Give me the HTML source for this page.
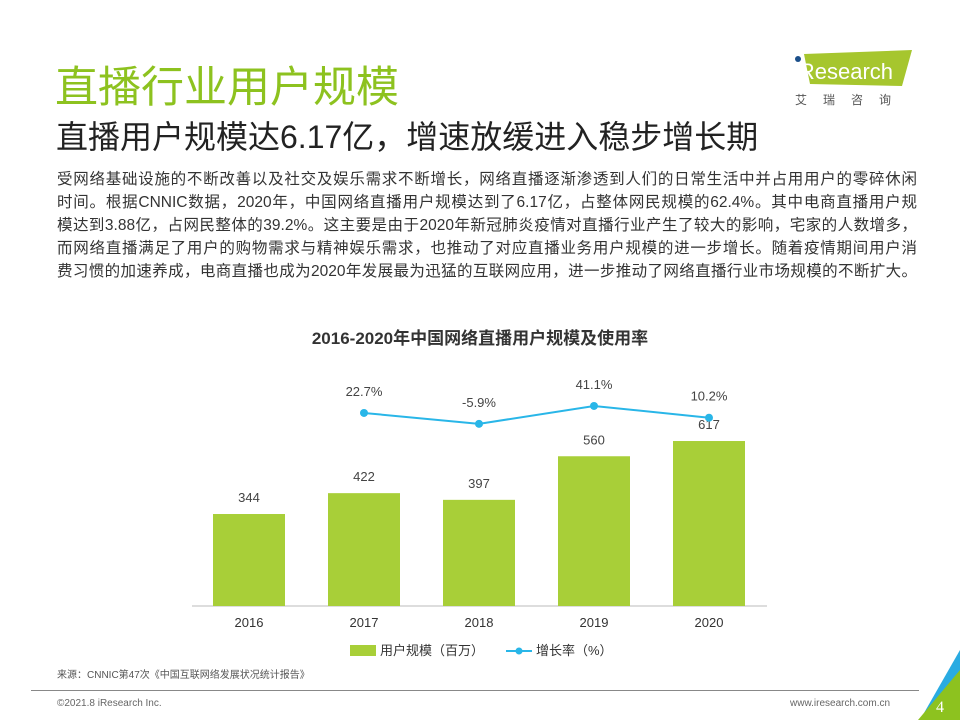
<!DOCTYPE html>
<html><head><meta charset="utf-8"><style>
body{margin:0;width:960px;height:720px;background:#fff;position:relative;overflow:hidden;font-family:"Liberation Sans","Noto Sans CJK SC",sans-serif;}
.t{position:absolute;white-space:nowrap;}
.pl{position:absolute;left:57px;width:860px;font-size:15.5px;line-height:23px;color:#333;text-align:justify;text-align-last:justify;white-space:nowrap;}
</style></head><body>
<div class="t" style="left:55px;top:53px;font-size:43px;color:#8dc21f;">直播行业用户规模</div>
<div class="t" style="left:56px;top:112px;font-size:32px;color:#222;">直播用户规模达6.17亿，增速放缓进入稳步增长期</div>
<div style="position:absolute;left:790px;top:48px;width:125px;height:62px;">
<svg width="125" height="62"><polygon points="14,6 122,2 112,38 20,36" fill="#a6c62e"/><circle cx="8" cy="11" r="3" fill="#1b4f8a"/><text x="4" y="31" font-size="22" fill="#fff" font-family="Liberation Sans">iResearch</text><text x="5" y="56" font-size="12" fill="#555" letter-spacing="16" font-family="Noto Sans CJK SC">艾瑞咨询</text></svg></div>
<div>
<div class="pl" style="top:168px;">受网络基础设施的不断改善以及社交及娱乐需求不断增长，网络直播逐渐渗透到人们的日常生活中并占用用户的零碎休闲</div>
<div class="pl" style="top:191px;">时间。根据CNNIC数据，2020年，中国网络直播用户规模达到了6.17亿，占整体网民规模的62.4%。其中电商直播用户规</div>
<div class="pl" style="top:214px;">模达到3.88亿，占网民整体的39.2%。这主要是由于2020年新冠肺炎疫情对直播行业产生了较大的影响，宅家的人数增多，</div>
<div class="pl" style="top:237px;">而网络直播满足了用户的购物需求与精神娱乐需求，也推动了对应直播业务用户规模的进一步增长。随着疫情期间用户消</div>
<div class="pl" style="top:260px;">费习惯的加速养成，电商直播也成为2020年发展最为迅猛的互联网应用，进一步推动了网络直播行业市场规模的不断扩大。</div>
</div>
<div class="t" style="left:0;width:960px;text-align:center;top:324px;font-size:17px;font-weight:bold;color:#333;">2016-2020年中国网络直播用户规模及使用率</div>
<svg id="chart" width="960" height="720" style="position:absolute;left:0;top:0;"></svg>
<div class="t" style="left:57px;top:666px;font-size:10px;color:#555;">来源：CNNIC第47次《中国互联网络发展状况统计报告》</div>
<div style="position:absolute;left:31px;top:690px;width:888px;height:1px;background:#888;"></div>
<div class="t" style="left:57px;top:698px;font-size:10px;color:#666;">©2021.8 iResearch Inc.</div>
<div class="t" style="left:790px;top:698px;font-size:10px;color:#666;">www.iresearch.com.cn</div>
<svg width="60" height="80" style="position:absolute;left:900px;top:640px;"><polygon points="60,10 60,40 30,80 20,80" fill="#29abe2"/><polygon points="60,30 60,80 18,80" fill="#8dc21f"/><text x="36" y="72" font-size="16" fill="#fff" font-family="Liberation Serif">4</text></svg>
<script>
const years=["2016","2017","2018","2019","2020"];
const users=[344,422,397,560,617];
const growth=[null,22.7,-5.9,41.1,10.2];
const ns="http://www.w3.org/2000/svg",svg=document.getElementById('chart');
const x=i=>249+i*115, base=606, yb=v=>base-v*0.2674, yl=v=>421.6-v*0.38;
function mk(t,a,txt){const e=document.createElementNS(ns,t);for(const k in a)e.setAttribute(k,a[k]);if(txt!=null)e.textContent=txt;svg.appendChild(e);return e;}
let ax=mk('line',{x1:192,x2:767,y1:base,y2:base,stroke:'#bbb'});


years.forEach((y,i)=>{
 let b=mk('rect',{x:x(i)-36,y:yb(users[i]),width:72,height:base-yb(users[i]),fill:'#a8cf38'});
 
 
 let l=mk('text',{x:x(i),y:yb(users[i])-12,'text-anchor':'middle','font-size':13,fill:'#444'},users[i]);
 
 
 let t=mk('text',{x:x(i),y:627,'text-anchor':'middle','font-size':13,fill:'#333'},y);
 
 
});
let pts=[];growth.forEach((g,i)=>{if(g!=null)pts.push([x(i),yl(g),g]);});
let pl=mk('polyline',{points:pts.map(p=>p[0]+','+p[1]).join(' '),fill:'none',stroke:'#29b6e8','stroke-width':2});


pts.forEach(p=>{
 let c=mk('circle',{cx:p[0],cy:p[1],r:4,fill:'#29b6e8'});
 
 
 let t=mk('text',{x:p[0],y:p[1]-17,'text-anchor':'middle','font-size':13,fill:'#444'},p[2].toFixed(1)+'%');
 
 
});
let lg1=mk('rect',{x:350,y:645,width:26,height:11,fill:'#a8cf38'});


let lt1=mk('text',{x:380,y:655,'font-size':13,fill:'#333'},'用户规模（百万）');


let lg2=mk('line',{x1:506,x2:532,y1:651,y2:651,stroke:'#29b6e8','stroke-width':2});


let lc=mk('circle',{cx:519,cy:651,r:3.5,fill:'#29b6e8'});


let lt2=mk('text',{x:536,y:655,'font-size':13,fill:'#333'},'增长率（%）');


</script>
</body></html>
